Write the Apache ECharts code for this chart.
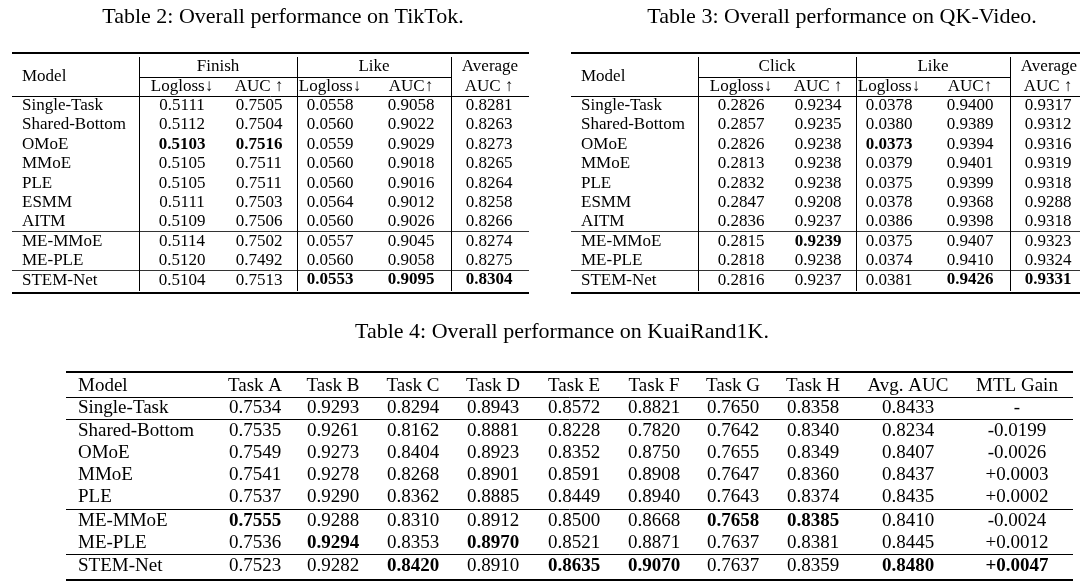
<!DOCTYPE html>
<html>
<head>
<meta charset="utf-8">
<script src="https://cdn.jsdelivr.net/npm/echarts@6/dist/echarts.min.js"></script>
<style>
  html, body { margin: 0; padding: 0; background: #fff; }
  #main { width: 1080px; height: 588px; }
</style>
</head>
<body>
<div id="main"></div>
<script>
// ---- data ----
const models23 = ['Single-Task', 'Shared-Bottom', 'OMoE', 'MMoE', 'PLE', 'ESMM', 'AITM', 'ME-MMoE', 'ME-PLE', 'STEM-Net']

// Table 2: TikTok
const tiktokFinishLogloss = [0.5111, 0.5112, 0.5103, 0.5105, 0.5105, 0.5111, 0.5109, 0.5114, 0.5120, 0.5104]
const tiktokFinishAuc = [0.7505, 0.7504, 0.7516, 0.7511, 0.7511, 0.7503, 0.7506, 0.7502, 0.7492, 0.7513]
const tiktokLikeLogloss = [0.0558, 0.0560, 0.0559, 0.0560, 0.0560, 0.0564, 0.0560, 0.0557, 0.0560, 0.0553]
const tiktokLikeAuc = [0.9058, 0.9022, 0.9029, 0.9018, 0.9016, 0.9012, 0.9026, 0.9045, 0.9058, 0.9095]
const tiktokAvgAuc = [0.8281, 0.8263, 0.8273, 0.8265, 0.8264, 0.8258, 0.8266, 0.8274, 0.8275, 0.8304]
const tiktokBold = [[2], [2], [9], [9], [9]] // row indexes printed in bold, per column

// Table 3: QK-Video
const qkClickLogloss = [0.2826, 0.2857, 0.2826, 0.2813, 0.2832, 0.2847, 0.2836, 0.2815, 0.2818, 0.2816]
const qkClickAuc = [0.9234, 0.9235, 0.9238, 0.9238, 0.9238, 0.9208, 0.9237, 0.9239, 0.9238, 0.9237]
const qkLikeLogloss = [0.0378, 0.0380, 0.0373, 0.0379, 0.0375, 0.0378, 0.0386, 0.0375, 0.0374, 0.0381]
const qkLikeAuc = [0.9400, 0.9389, 0.9394, 0.9401, 0.9399, 0.9368, 0.9398, 0.9407, 0.9410, 0.9426]
const qkAvgAuc = [0.9317, 0.9312, 0.9316, 0.9319, 0.9318, 0.9288, 0.9318, 0.9323, 0.9324, 0.9331]
const qkBold = [[], [7], [2], [9], [9]]

// Table 4: KuaiRand1K
const kuaiModels = ['Single-Task', 'Shared-Bottom', 'OMoE', 'MMoE', 'PLE', 'ME-MMoE', 'ME-PLE', 'STEM-Net']
const kuaiHeaders = ['Task A', 'Task B', 'Task C', 'Task D', 'Task E', 'Task F', 'Task G', 'Task H', 'Avg. AUC', 'MTL Gain']
const taskA = [0.7534, 0.7535, 0.7549, 0.7541, 0.7537, 0.7555, 0.7536, 0.7523]
const taskB = [0.9293, 0.9261, 0.9273, 0.9278, 0.9290, 0.9288, 0.9294, 0.9282]
const taskC = [0.8294, 0.8162, 0.8404, 0.8268, 0.8362, 0.8310, 0.8353, 0.8420]
const taskD = [0.8943, 0.8881, 0.8923, 0.8901, 0.8885, 0.8912, 0.8970, 0.8910]
const taskE = [0.8572, 0.8228, 0.8352, 0.8591, 0.8449, 0.8500, 0.8521, 0.8635]
const taskF = [0.8821, 0.7820, 0.8750, 0.8908, 0.8940, 0.8668, 0.8871, 0.9070]
const taskG = [0.7650, 0.7642, 0.7655, 0.7647, 0.7643, 0.7658, 0.7637, 0.7637]
const taskH = [0.8358, 0.8340, 0.8349, 0.8360, 0.8374, 0.8385, 0.8381, 0.8359]
const kuaiAvgAuc = [0.8433, 0.8234, 0.8407, 0.8437, 0.8435, 0.8410, 0.8445, 0.8480]
const kuaiMtlGain = [null, -0.0199, -0.0026, 0.0003, 0.0002, -0.0024, 0.0012, 0.0047]
const kuaiBold = [[5], [6], [7], [6], [7], [7], [5], [5], [7], [7]]

// ---- drawing ----
const FONT = '"Liberation Serif", "Times New Roman", serif'
const els = []

function text(str, x, y, size, align, bold) {
  els.push({
    type: 'text',
    x: x,
    y: y,
    style: {
      text: str,
      font: (bold ? 'bold ' : '') + size + 'px ' + FONT,
      fill: '#000',
      align: align || 'center',
      verticalAlign: 'middle',
      textAlign: align || 'center',
      textVerticalAlign: 'middle'
    }
  })
}
function line(x1, y1, x2, y2, w, color) {
  els.push({
    type: 'line',
    shape: { x1: x1, y1: y1, x2: x2, y2: y2 },
    style: { stroke: color || '#000', lineWidth: w || 1 }
  })
}
const fmt = (v) => v.toFixed(4)
const fmtGain = (v) => (v === null ? '-' : (v > 0 ? '+' : '') + v.toFixed(4))

// tables 2 and 3 share one layout
function smallTable(left, caption, groups, cols, bold) {
  const size = 17
  const width = 517
  const vLines = [127, 285, 439]
  const centers = [170, 247, 318, 399, 477]
  const subHeads = ['Logloss↓', 'AUC ↑', 'Logloss↓', 'AUC↑', 'AUC ↑']
  const rowY = (i) => 105.5 + i * 19.4

  text(caption, left + 271, 17, 22)
  line(left, 53, left + width, 53, 2)
  line(left + vLines[0], 77.5, left + vLines[2], 77.5, 1)
  line(left, 96.5, left + width, 96.5, 1)
  line(left, 231.5, left + width, 231.5, 1, '#333')
  line(left, 270.5, left + width, 270.5, 1, '#333')
  line(left, 293, left + width, 293, 2)
  vLines.forEach((vx) => line(left + vx + 0.5, 57, left + vx + 0.5, 291, 1))

  text('Model', left + 10, 76.5, size, 'left')
  text(groups[0], left + (vLines[0] + vLines[1]) / 2, 67, size)
  text(groups[1], left + (vLines[1] + vLines[2]) / 2, 67, size)
  text('Average', left + (vLines[2] + width) / 2, 67, size)
  subHeads.forEach((h, c) => text(h, left + centers[c], 86.5, size))

  models23.forEach((m, i) => {
    text(m, left + 10, rowY(i), size, 'left')
    cols.forEach((col, c) => {
      text(fmt(col[i]), left + centers[c], rowY(i), size, 'center', bold[c].indexOf(i) >= 0)
    })
  })
}

smallTable(12, 'Table 2: Overall performance on TikTok.', ['Finish', 'Like'],
  [tiktokFinishLogloss, tiktokFinishAuc, tiktokLikeLogloss, tiktokLikeAuc, tiktokAvgAuc], tiktokBold)
smallTable(571, 'Table 3: Overall performance on QK-Video.', ['Click', 'Like'],
  [qkClickLogloss, qkClickAuc, qkLikeLogloss, qkLikeAuc, qkAvgAuc], qkBold)

// table 4
;(function () {
  const size = 19
  const left = 66, right = 1073
  const centers = [255, 333, 413, 493, 574, 654, 733, 813, 908, 1017]
  const rowsY = [408, 431.5, 453.5, 475.5, 497.5, 521, 543, 566.5]
  const cols = [taskA, taskB, taskC, taskD, taskE, taskF, taskG, taskH, kuaiAvgAuc]

  text('Table 4: Overall performance on KuaiRand1K.', 562, 332, 22)
  line(left, 372, right, 372, 2)
  line(left, 397.5, right, 397.5, 1)
  line(left, 419.5, right, 419.5, 1)
  line(left, 509.5, right, 509.5, 1)
  line(left, 554.5, right, 554.5, 1)
  line(left, 580, right, 580, 2)

  text('Model', 78, 386, size, 'left')
  kuaiHeaders.forEach((h, c) => text(h, centers[c], 386, size))
  kuaiModels.forEach((m, i) => {
    text(m, 78, rowsY[i], size, 'left')
    cols.forEach((col, c) => text(fmt(col[i]), centers[c], rowsY[i], size, 'center', kuaiBold[c].indexOf(i) >= 0))
    text(fmtGain(kuaiMtlGain[i]), centers[9], rowsY[i], size, 'center', kuaiBold[9].indexOf(i) >= 0)
  })
})()

let myChart = echarts.init(document.getElementById('main'), null, { renderer: 'canvas' })
myChart.setOption({
  backgroundColor: '#fff',
  animation: false,
  graphic: { elements: els }
})
</script>
</body>
</html>
